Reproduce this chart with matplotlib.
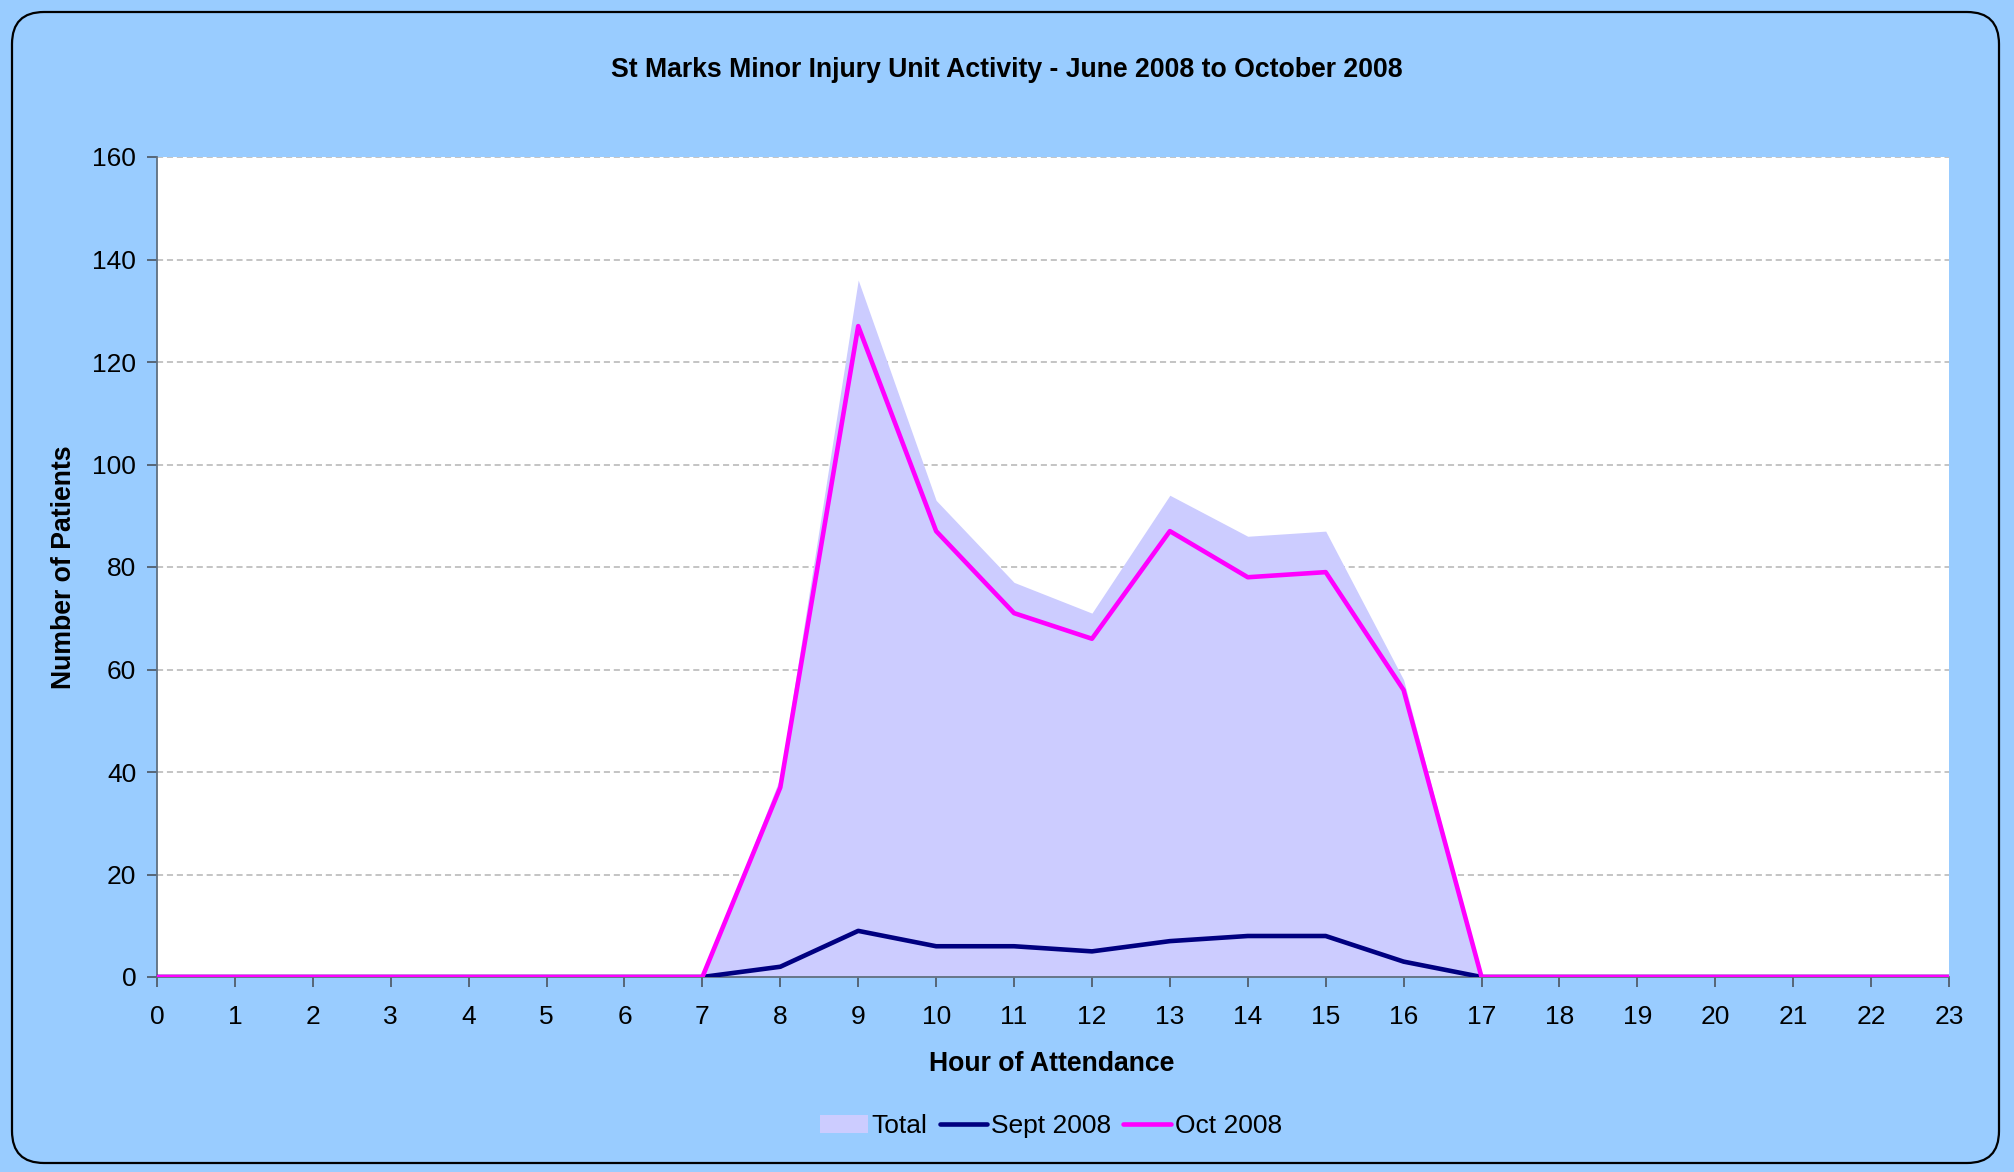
import matplotlib
matplotlib.use("Agg")
import matplotlib.pyplot as plt
import matplotlib.patches as mpatches
from matplotlib.transforms import IdentityTransform

# hourly attendance counts
hours = list(range(24))
total = [0, 0, 0, 0, 0, 0, 0, 0, 39, 136, 93, 77, 71, 94, 86, 87, 58, 0, 0, 0, 0, 0, 0, 0]
sept_2008 = [0, 0, 0, 0, 0, 0, 0, 0, 2, 9, 6, 6, 5, 7, 8, 8, 3, 0, 0, 0, 0, 0, 0, 0]
oct_2008 = [0, 0, 0, 0, 0, 0, 0, 0, 37, 127, 87, 71, 66, 87, 78, 79, 56, 0, 0, 0, 0, 0, 0, 0]
y_ticks = [0, 20, 40, 60, 80, 100, 120, 140, 160]

plt.rcParams['font.family'] = ['Liberation Sans', 'DejaVu Sans']

bg = '#99CCFF'
fig = plt.figure(figsize=(20.15, 11.72), dpi=100, facecolor=bg)

# rounded chart border, kept behind the axes
border = mpatches.FancyBboxPatch((12, 9), 1987, 1151,
                                 boxstyle="round,pad=0,rounding_size=32",
                                 transform=IdentityTransform(),
                                 facecolor=bg, edgecolor='black', linewidth=1.6,
                                 zorder=-1)
fig.patches.append(border)

ax = fig.add_axes([157 / 2015, 195 / 1172, 1792 / 2015, 820 / 1172])
ax.set_zorder(2)
ax.set_facecolor('white')

ax.fill_between(hours, total, 0, color='#CCCCFF', linewidth=0, label='Total', zorder=2)
ax.plot(hours, sept_2008, color='#000080', linewidth=3.3, label='Sept 2008', zorder=3,
        solid_capstyle='round')
ax.plot(hours, oct_2008, color='#FF00FF', linewidth=3.3, label='Oct 2008', zorder=4,
        solid_capstyle='round')

ax.set_xlim(0, 23)
ax.set_ylim(0, 160)
ax.set_xticks(hours)
ax.set_yticks(y_ticks)
ax.yaxis.grid(True, color='#B4B4B4', linestyle=(0, (4, 2.5)), linewidth=1.1, zorder=1)
ax.set_axisbelow(True)

for side in ['top', 'right']:
    ax.spines[side].set_visible(False)
ax.spines['left'].set_color('#5F6F80')
ax.spines['left'].set_linewidth(1.3)
ax.spines['bottom'].set_color('#5F6F80')
ax.spines['bottom'].set_linewidth(1.3)
ax.tick_params(axis='both', direction='out', length=7, width=1.2, color='#4A5560',
               labelsize=19)
ax.tick_params(axis='x', pad=13)
ax.tick_params(axis='y', pad=8)

fig.text(0.4995, 0.940, 'St Marks Minor Injury Unit Activity - June 2008 to October 2008',
         ha='center', va='center', fontsize=19.2, fontweight='bold')
fig.text(0.522, 0.0925, 'Hour of Attendance', ha='center', va='center',
         fontsize=19.2, fontweight='bold')
fig.text(0.032, 0.516, 'Number of Patients', ha='center', va='center',
         rotation=90, fontsize=19.2, fontweight='bold')

fig.legend(loc='center', bbox_to_anchor=(0.5216, 0.039), ncol=3, frameon=False,
           fontsize=19, handlelength=1.8, handletextpad=0.15, columnspacing=0.45)

fig.savefig('out.png', dpi=100, facecolor=bg)
